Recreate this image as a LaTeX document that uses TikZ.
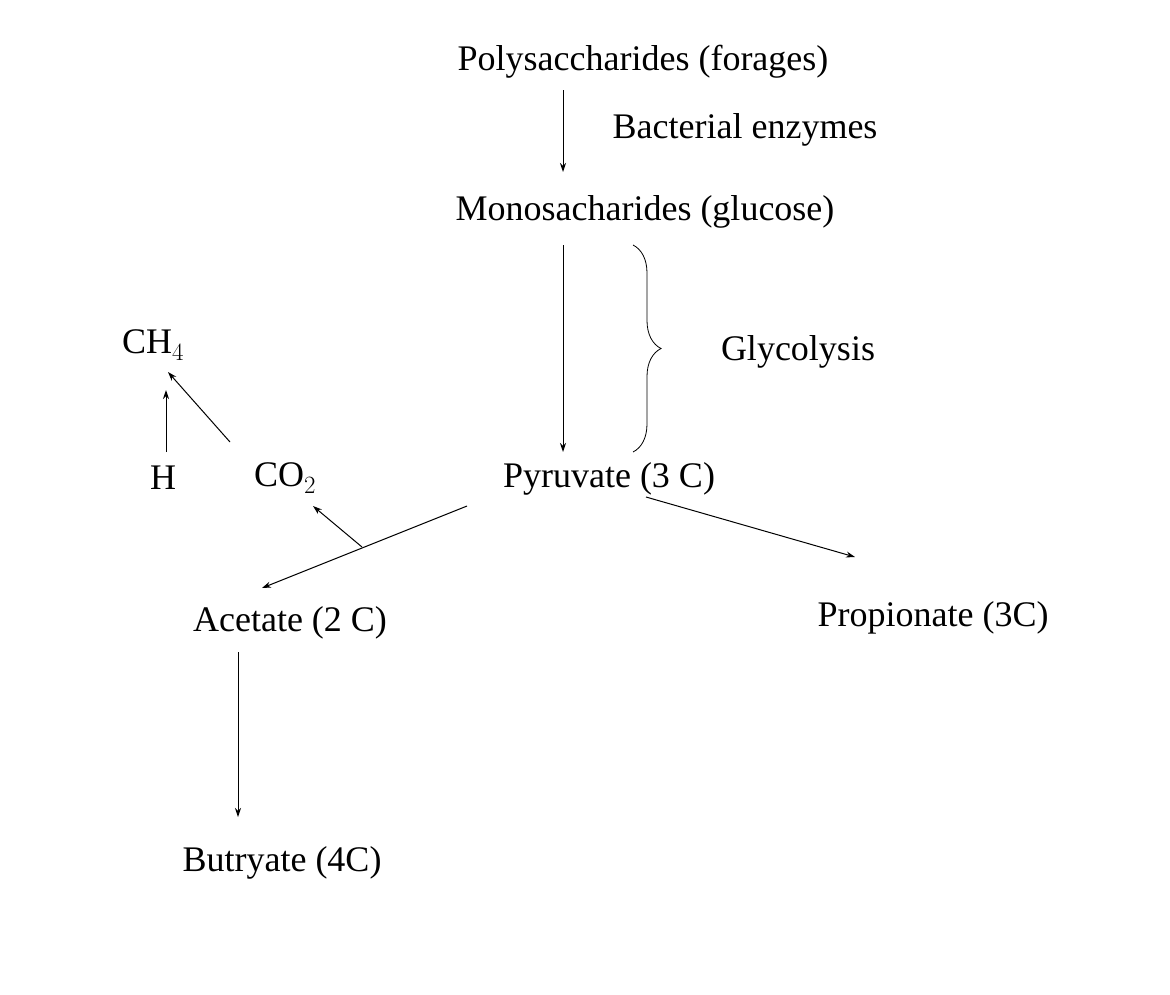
\documentclass[tikz,border=0pt]{standalone}
\usepackage{fontspec}
\setmainfont{Liberation Serif}
\usetikzlibrary{decorations.pathreplacing,arrows.meta}
\begin{document}
\begin{tikzpicture}[x=1pt,y=-1pt,
  lbl/.style={font=\fontsize{36}{40}\selectfont, inner sep=0pt},
  arr/.style={-{Stealth[length=9pt,width=6pt]}, line width=1pt}]
\useasboundingbox (0,0) rectangle (1170,994);
\node[lbl] (poly) at (643,62) {Polysaccharides (forages)};
\node[lbl] (bact) at (745,130) {Bacterial enzymes};
\node[lbl] (mono) at (645,212) {Monosacharides (glucose)};
\node[lbl] (gly) at (798,352) {Glycolysis};
\node[lbl] (pyr) at (609,479) {Pyruvate (3 C)};
\node[lbl] (ch4) at (153,345) {CH$_4$};
\node[lbl] (h) at (163,478) {H};
\node[lbl] (co2) at (285,478) {CO$_2$};
\node[lbl] (ace) at (290,623) {Acetate (2 C)};
\node[lbl] (pro) at (933,618) {Propionate (3C)};
\node[lbl] (but) at (282,863) {Butryate (4C)};
\coordinate (a1) at (563,90); \coordinate (a2) at (563,172);
\coordinate (b1) at (563,245); \coordinate (b2) at (563,452);
\coordinate (br1) at (633,245); \coordinate (br2) at (633,452);
\coordinate (h1) at (166,452); \coordinate (h2) at (166,390);
\coordinate (c1) at (230,442); \coordinate (c2) at (168,372);
\coordinate (p1) at (467,506); \coordinate (p2) at (262,588);
\coordinate (m) at (362,547); \coordinate (m2) at (313,506);
\coordinate (q1) at (646,497); \coordinate (q2) at (855,557);
\coordinate (d1) at (238,652); \coordinate (d2) at (238,817);
\draw[arr] (a1) -- (a2);
\draw[arr] (b1) -- (b2);
\draw[line width=0.8pt, decorate, decoration={brace, amplitude=28pt}] (br1) -- (br2);
\draw[arr] (h1) -- (h2);
\draw[arr] (c1) -- (c2);
\draw[arr] (p1) -- (p2);
\draw[arr] (m) -- (m2);
\draw[arr] (q1) -- (q2);
\draw[arr] (d1) -- (d2);
\end{tikzpicture}
\end{document}
